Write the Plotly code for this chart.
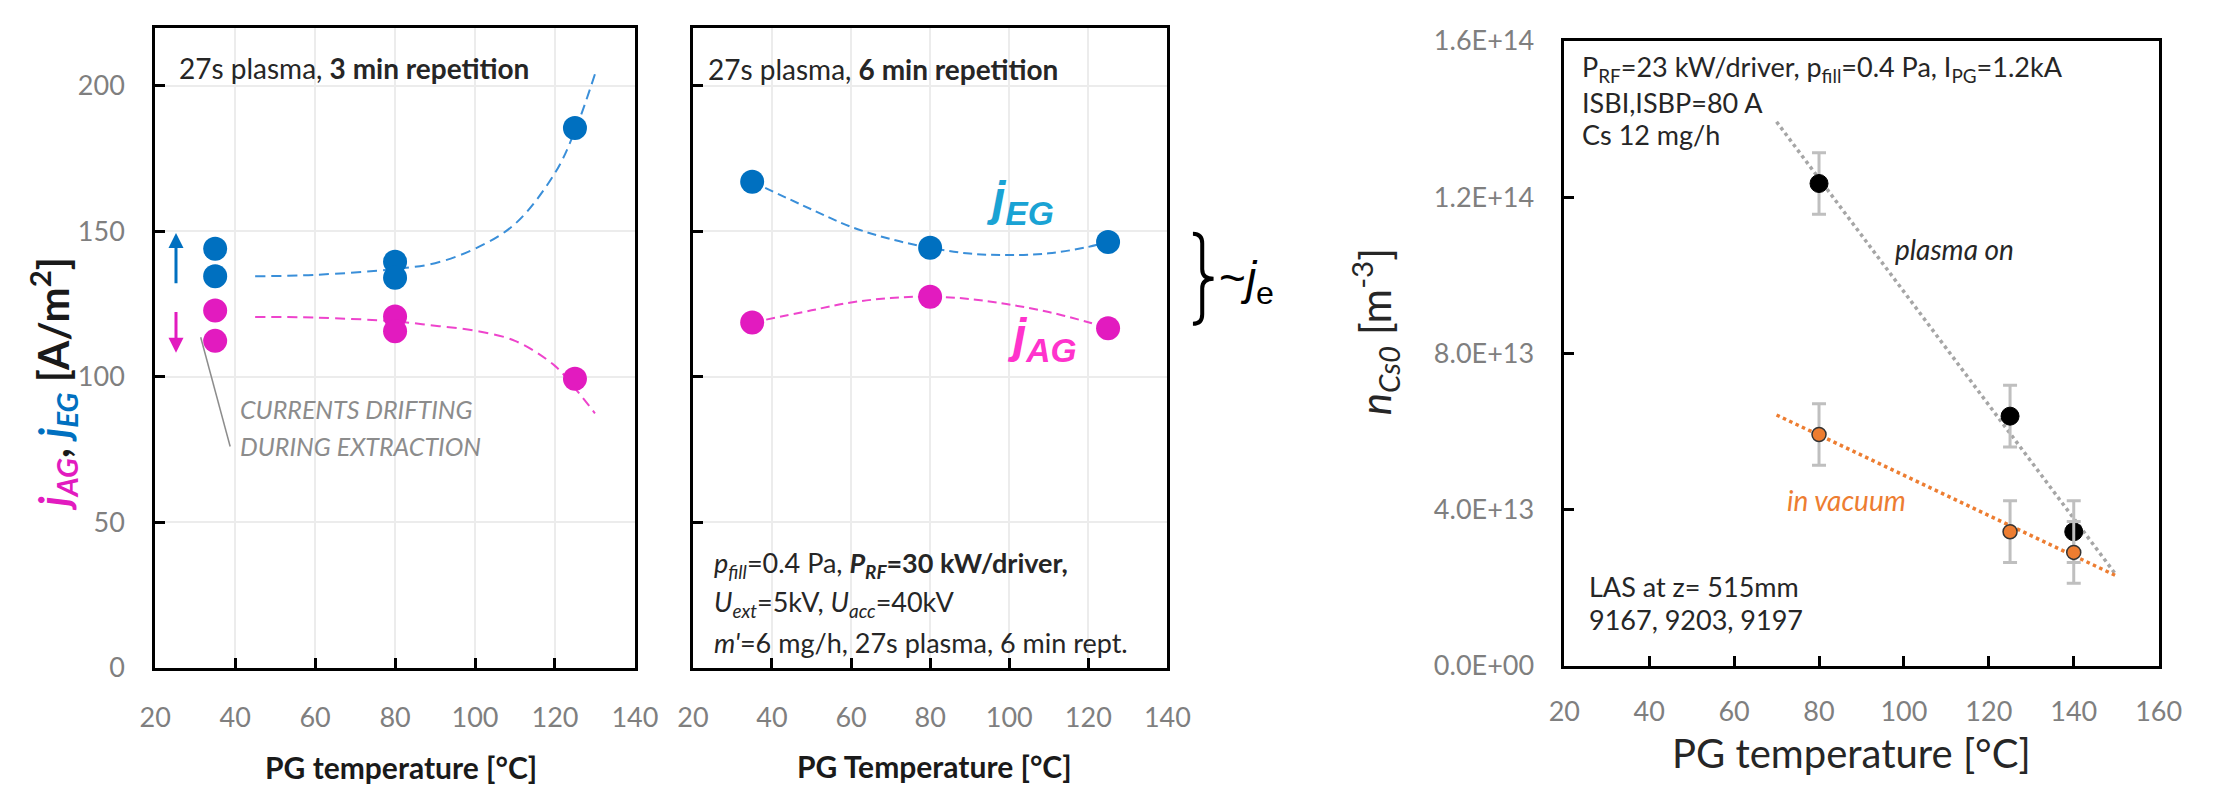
import plotly.graph_objects as go

W, H = 2218, 799

# ---------------- data ----------------
# Panel 1: 27 s plasma, 3 min repetition
p1_T_EG = [35, 35, 80, 80, 125]
p1_jEG = [144.0, 134.5, 139.5, 134.0, 185.5]
p1_T_AG = [35, 35, 80, 80, 125]
p1_jAG = [122.7, 112.3, 120.7, 115.6, 99.3]
p1_trend_T = [45, 60, 80, 90, 100, 110, 120, 125, 130]
p1_trend_EG = [134.5, 135.0, 137.0, 139.0, 144.0, 152.5, 170.0, 184.5, 204.0]
p1_trend_AG = [120.5, 120.3, 119.0, 117.5, 115.8, 112.3, 103.7, 96.0, 87.4]

# Panel 2: 27 s plasma, 6 min repetition
p2_T = [35, 80, 125]
p2_jEG = [167.0, 144.3, 146.3]
p2_jAG = [118.6, 127.5, 116.6]
p2_trend_T = [35, 50, 60, 70, 80, 90, 100, 110, 120, 125]
p2_trend_EG = [167.0, 157.5, 151.5, 147.3, 144.3, 142.3, 141.8, 142.4, 144.6, 146.3]
p2_trend_AG = [118.6, 122.8, 125.5, 127.0, 127.5, 126.7, 124.8, 122.2, 118.7, 116.6]

# Panel 3: Cs density
p3_T = [80, 125, 140]
n_plasma_on = [12.35e13, 6.39e13, 3.43e13]
n_vacuum = [5.92e13, 3.43e13, 2.90e13]
n_err = [0.79e13, 0.79e13, 0.79e13]
p3_trend_T = [70, 150]
p3_trend_on = [13.93e13, 2.32e13]
p3_trend_vac = [6.42e13, 2.30e13]

x12_ticks = [20, 40, 60, 80, 100, 120, 140]
y12_ticks = [0, 50, 100, 150, 200]
x3_ticks = [20, 40, 60, 80, 100, 120, 140, 160]
y3_ticks = [0, 4e13, 8e13, 1.2e14, 1.6e14]
y3_ticktext = ["0.0E+00", "4.0E+13", "8.0E+13", "1.2E+14", "1.6E+14"]

# ---------------- style ----------------
BLUE = "#0070c0"
MAG = "#e21bbf"
BLUE_L = "#3a8fd9"
MAG_L = "#ee44cc"
TXT = "#262626"
TICKC = "#7f7f7f"
FONT = "Lato"
ARIAL = "Liberation Sans"


def px(x):
    return x / W


def py(y):
    return 1 - y / H


fig = go.Figure()

# Panel 1 traces
fig.add_trace(go.Scatter(x=p1_trend_T, y=p1_trend_EG, mode="lines", line=dict(color=BLUE_L, width=2, dash="10px,6px", shape="spline"), xaxis="x", yaxis="y"))
fig.add_trace(go.Scatter(x=p1_trend_T, y=p1_trend_AG, mode="lines", line=dict(color=MAG_L, width=2, dash="10px,6px", shape="spline"), xaxis="x", yaxis="y"))
fig.add_trace(go.Scatter(x=p1_T_EG, y=p1_jEG, mode="markers", marker=dict(color=BLUE, size=24), xaxis="x", yaxis="y"))
fig.add_trace(go.Scatter(x=p1_T_AG, y=p1_jAG, mode="markers", marker=dict(color=MAG, size=24), xaxis="x", yaxis="y"))

# Panel 2 traces
fig.add_trace(go.Scatter(x=p2_trend_T, y=p2_trend_EG, mode="lines", line=dict(color=BLUE_L, width=2, dash="9px,5px", shape="spline"), xaxis="x2", yaxis="y2"))
fig.add_trace(go.Scatter(x=p2_trend_T, y=p2_trend_AG, mode="lines", line=dict(color=MAG_L, width=2, dash="9px,5px", shape="spline"), xaxis="x2", yaxis="y2"))
fig.add_trace(go.Scatter(x=p2_T, y=p2_jEG, mode="markers", marker=dict(color=BLUE, size=24), xaxis="x2", yaxis="y2"))
fig.add_trace(go.Scatter(x=p2_T, y=p2_jAG, mode="markers", marker=dict(color=MAG, size=24), xaxis="x2", yaxis="y2"))

# Panel 3 traces
fig.add_trace(go.Scatter(x=p3_trend_T, y=p3_trend_on, mode="lines", line=dict(color="#a6a6a6", width=3.5, dash="dot"), xaxis="x3", yaxis="y3"))
fig.add_trace(go.Scatter(x=p3_trend_T, y=p3_trend_vac, mode="lines", line=dict(color="#ed7d31", width=3.5, dash="dot"), xaxis="x3", yaxis="y3"))
fig.add_trace(go.Scatter(x=p3_T, y=n_plasma_on, mode="markers",
                         error_y=dict(type="data", array=n_err, color="#bfbfbf", thickness=3, width=7),
                         marker=dict(color="#000000", size=18, line=dict(color="#000000", width=1)), xaxis="x3", yaxis="y3"))
fig.add_trace(go.Scatter(x=p3_T, y=n_vacuum, mode="markers",
                         error_y=dict(type="data", array=n_err, color="#bfbfbf", thickness=3, width=7),
                         marker=dict(color="#ed7d31", size=14, line=dict(color="#333333", width=1.5)), xaxis="x3", yaxis="y3"))

axis_common = dict(showline=True, linecolor="black", linewidth=3, mirror=True, ticks="inside",
                   ticklen=10, tickwidth=3, tickcolor="black", zeroline=False,
                   tickfont=dict(family=FONT, size=27, color=TICKC))
grid = dict(showgrid=True, gridcolor="#ececec", gridwidth=2)

Y12 = [py(677.5), py(10)]
fig.update_layout(
    width=W, height=H, margin=dict(l=0, r=0, t=0, b=0),
    paper_bgcolor="white", plot_bgcolor="white", showlegend=False,
    font=dict(family=FONT, color=TXT),
    xaxis=dict(domain=[px(141.7), px(630)], range=[20, 140], tickvals=x12_ticks, anchor="y",
               ticklabelstandoff=24, **grid, **axis_common),
    yaxis=dict(domain=Y12, range=[0, 220], tickvals=y12_ticks, anchor="x",
               ticklabelstandoff=22, **grid, **axis_common),
    xaxis2=dict(domain=[px(689), px(1172)], range=[20, 140], tickvals=x12_ticks, anchor="y2",
                ticklabelstandoff=24, **grid, **axis_common),
    yaxis2=dict(domain=Y12, range=[0, 220], tickvals=y12_ticks, anchor="x2", showticklabels=False,
                **grid, **axis_common),
    xaxis3=dict(domain=[px(1576), px(2181)], range=[20, 160], tickvals=x3_ticks, anchor="y3",
                ticklabelstandoff=20, showgrid=False, **{**axis_common, "linewidth": 2.5, "tickwidth": 2.5}),
    yaxis3=dict(domain=[py(675.5), py(24)], range=[0, 1.6e14], tickvals=y3_ticks, ticktext=y3_ticktext,
                anchor="x3", ticklabelstandoff=22, showgrid=False,
                **{**axis_common, "linewidth": 2.5, "tickwidth": 2.5}),
)

ann = []


def ptext(x, y, text, size, xanchor="left", color=TXT, family=FONT, angle=0):
    ann.append(dict(x=px(x), y=py(y), xref="paper", yref="paper", text=text, showarrow=False,
                    xanchor=xanchor, yanchor="middle", textangle=angle, borderpad=0,
                    font=dict(family=family, size=size, color=color)))


# Panel 1 texts
ptext(165, 52, "27s plasma, <b>3 min repetition</b>", 28)
ptext(227, 408, "<i>CURRENTS DRIFTING</i>", 25, color="#8c8c8c")
ptext(227, 446, "<i>DURING EXTRACTION</i>", 25, color="#8c8c8c")
ptext(392, 781, "<b>PG temperature [°C]</b>", 30, xanchor="center", color="#1a1a1a")
ptext(37, 381,
      "<b><i><span style='color:%s'>j<sub>AG</sub></span></i>, <i><span style='color:%s'>j<sub>EG</sub></span></i> [A/m<sup>2</sup>]</b>" % (MAG, BLUE),
      42, xanchor="center", color="#1a1a1a", angle=-90)

# Panel 2 texts
ptext(703, 53, "27s plasma, <b>6 min repetition</b>", 28)
ptext(709, 570, "<i>p<sub>fill</sub></i>=0.4 Pa, <b><i>P<sub>RF</sub></i>=30 kW/driver,</b>", 27)
ptext(709, 611, "<i>U<sub>ext</sub></i>=5kV, <i>U<sub>acc</sub></i>=40kV", 27)
ptext(709, 651, "<i>m'</i>=6 mg/h, 27s plasma, 6 min rept.", 27)
ptext(935, 780, "<b>PG Temperature [°C]</b>", 30, xanchor="center", color="#1a1a1a")
ann.append(dict(x=102.8, y=160, xref="x2", yref="y2", showarrow=False, xanchor="center", yanchor="middle",
                text="<b><i>j<sub>EG</sub></i></b>", font=dict(family=ARIAL, size=48, color="#1aa3d4")))
ann.append(dict(x=108.3, y=112.9, xref="x2", yref="y2", showarrow=False, xanchor="center", yanchor="middle",
                text="<b><i>j<sub>AG</sub></i></b>", font=dict(family=ARIAL, size=48, color="#ff33cc")))
ptext(1224, 275, "~<i>j</i><sub>e</sub>", 46, family=ARIAL, color="black")

# Panel 3 texts
ptext(1593, 53, "P<sub>RF</sub>=23 kW/driver, p<sub>fill</sub>=0.4 Pa, I<sub>PG</sub>=1.2kA", 27)
ptext(1593, 88, "ISBI,ISBP=80 A", 27)
ptext(1593, 122, "Cs 12 mg/h", 27)
ptext(1600, 593, "LAS at z= 515mm", 27)
ptext(1600, 627, "9167, 9203, 9197", 27)
ann.append(dict(x=112, y=10.67e13, xref="x3", yref="y3", showarrow=False, xanchor="center", yanchor="middle",
                text="<i>plasma on</i>", font=dict(family=FONT, size=28, color=TXT)))
ann.append(dict(x=86.4, y=4.24e13, xref="x3", yref="y3", showarrow=False, xanchor="center", yanchor="middle",
                text="<i>in vacuum</i>", font=dict(family=FONT, size=28, color="#ed7d31")))
ptext(1868, 767, "PG temperature [°C]", 40, xanchor="center", color=TXT)
ptext(1383, 327, "<i>n<sub>Cs0</sub></i> [m<sup>-3</sup>]", 42, xanchor="center", color=TXT, angle=-90)

# arrows in panel 1
ann.append(dict(x=25.2, y=149.4, ax=25.2, ay=131.6, xref="x", yref="y", axref="x", ayref="y", text="",
                showarrow=True, arrowhead=2, arrowsize=1, arrowwidth=3, arrowcolor=BLUE))
ann.append(dict(x=25.2, y=108.2, ax=25.2, ay=122.7, xref="x", yref="y", axref="x", ayref="y", text="",
                showarrow=True, arrowhead=2, arrowsize=1, arrowwidth=3, arrowcolor=MAG))

fig.update_layout(annotations=ann)

# leader line for the drifting note
fig.add_shape(type="line", xref="paper", yref="paper", x0=px(188), y0=py(333), x1=px(218), y1=py(447),
              line=dict(color="#8c8c8c", width=1.5))

# curly brace next to panel 2


def brace_path(x0, top, bot, w):
    mid = (top + bot) / 2
    a = w * 0.45
    c = 10
    pts = [
        f"M {px(x0)},{py(top)}",
        f"Q {px(x0 + a)},{py(top)} {px(x0 + a)},{py(top + c)}",
        f"L {px(x0 + a)},{py(mid - c)}",
        f"Q {px(x0 + a)},{py(mid)} {px(x0 + w)},{py(mid)}",
        f"Q {px(x0 + a)},{py(mid)} {px(x0 + a)},{py(mid + c)}",
        f"L {px(x0 + a)},{py(bot - c)}",
        f"Q {px(x0 + a)},{py(bot)} {px(x0)},{py(bot)}",
    ]
    return " ".join(pts)


fig.add_shape(type="path", xref="paper", yref="paper", path=brace_path(1198, 225, 319, 21),
              line=dict(color="black", width=4))

fig.write_html("out.html", post_script="document.body.style.margin='0';")
